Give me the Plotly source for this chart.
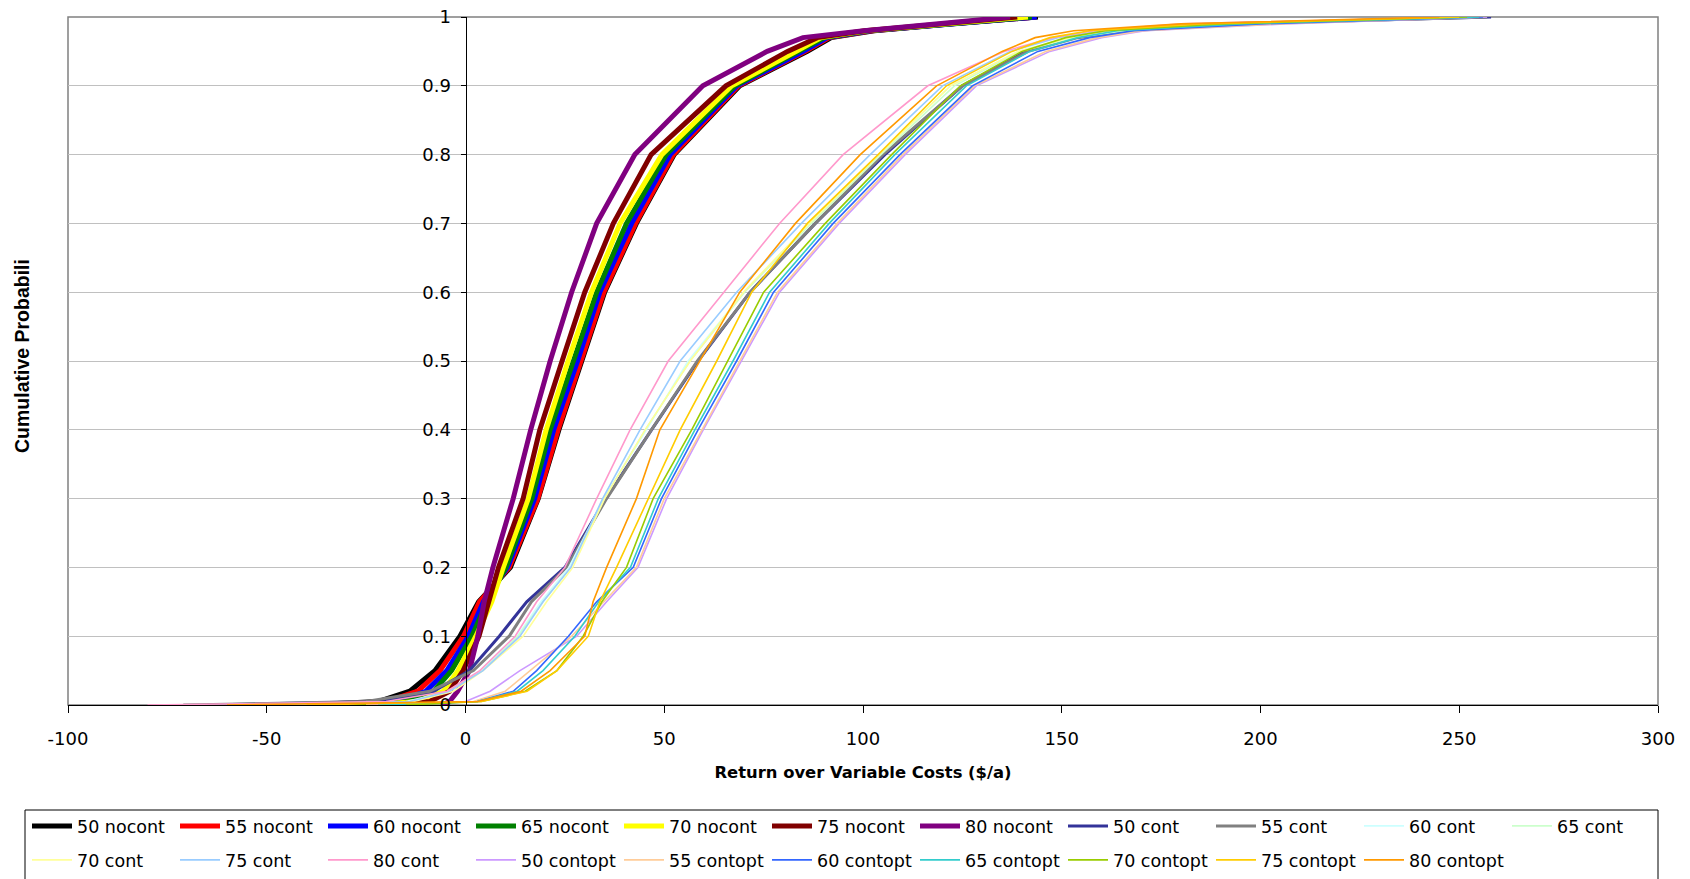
import plotly.graph_objects as go

# ---------------- data ----------------
cum_prob = [0, 0.005, 0.02, 0.05, 0.1, 0.15, 0.2, 0.3, 0.4, 0.5, 0.6, 0.7, 0.8, 0.9, 0.95, 0.97, 0.98, 0.99, 1.0]

nocont_50 = [-40, -22, -14, -7.7, -1.4, 3.3, 11.3, 18.3, 23.5, 29.4, 35.0, 43.0, 52.5, 69.0, 86.0, 92.0, 102.8, 122.6, 144.0]
nocont_55 = [-35, -20, -12, -6.4, -0.5, 3.5, 11.0, 18.2, 23.3, 29.2, 34.8, 42.8, 52.3, 68.7, 85.5, 91.5, 102.3, 122.2, 143.5]
nocont_60 = [-30, -17, -10, -4.7, 0.7, 4.5, 10.6, 17.4, 22.2, 28.2, 33.8, 41.8, 51.5, 68.3, 85.0, 91.0, 101.8, 121.8, 143.7]
nocont_65 = [-28, -15, -8, -3.5, 1.6, 5.4, 10.2, 16.7, 21.3, 27.0, 33.0, 40.5, 50.5, 67.8, 84.2, 90.3, 101.3, 121.2, 142.5]
nocont_70 = [-25, -12, -5.6, -1.9, 2.6, 6.6, 9.5, 15.8, 20.3, 25.8, 31.7, 38.9, 49.4, 67.0, 83.2, 89.5, 100.8, 120.8, 141.5]
nocont_75 = [-20, -9, -4, -0.6, 3.4, 5.7, 8.3, 14.5, 18.7, 24.3, 30.0, 37.2, 46.7, 65.5, 81.0, 88.5, 100.5, 120.0, 138.8]
nocont_80 = [-6, -4, -2, 1.0, 3.1, 4.7, 6.9, 12.0, 16.4, 21.3, 26.7, 33.0, 42.6, 59.7, 75.9, 84.9, 100.2, 118.0, 137.0]

cont_50 = [-65, -22, -8, 1.0, 8.5, 15.4, 25.0, 35.3, 46.8, 58.5, 71.6, 88.0, 105.5, 125.0, 141.0, 153.0, 165.0, 190.0, 258.0]
cont_55 = [-71, -25, -9, 2.0, 11.0, 16.6, 25.4, 35.5, 46.8, 58.3, 71.6, 88.0, 105.0, 125.0, 141.5, 154.0, 167.0, 195.0, 257.0]
cont_60 = [-50, -15, -4, 4.0, 13.0, 19.0, 26.0, 34.8, 45.5, 56.0, 70.0, 86.5, 104.0, 122.0, 139.0, 152.0, 165.0, 190.0, 256.0]
cont_65 = [-48, -14, -4, 4.2, 13.2, 19.5, 26.5, 34.9, 45.2, 56.5, 70.2, 87.0, 104.5, 123.0, 139.5, 153.0, 166.0, 192.0, 255.0]
cont_70 = [-45, -13, -3, 4.4, 14.5, 20.4, 27.0, 35.0, 45.2, 56.5, 69.9, 86.5, 104.0, 122.0, 139.0, 152.0, 164.0, 190.0, 254.0]
cont_75 = [-55, -14, -4, 4.4, 13.7, 19.5, 26.5, 34.5, 43.9, 54.0, 68.2, 84.5, 101.8, 120.0, 137.0, 149.0, 160.0, 185.0, 252.0]
cont_80 = [-80, -20, -4.7, 3.6, 12.5, 17.9, 25.0, 33.0, 41.4, 51.0, 65.0, 79.0, 95.0, 116.3, 135.5, 147.8, 158.0, 180.0, 250.0]

contopt_50 = [-25, 0, 6.2, 13.7, 28.0, 35.5, 43.4, 50.6, 59.8, 69.5, 79.0, 94.0, 110.6, 128.5, 147.0, 160.0, 171.0, 206.0, 257.0]
contopt_55 = [-20, 2, 10.0, 16.2, 26.7, 34.8, 43.0, 50.0, 59.5, 69.0, 78.5, 93.5, 110.0, 128.0, 146.0, 159.0, 170.0, 204.0, 256.0]
contopt_60 = [-18, 3, 12.0, 17.9, 25.9, 33.0, 42.2, 49.3, 58.5, 68.2, 77.5, 92.5, 109.3, 127.5, 144.0, 157.0, 168.0, 200.0, 256.0]
contopt_65 = [-22, 3, 13.0, 19.5, 27.5, 33.5, 41.5, 48.5, 57.7, 67.3, 76.5, 91.5, 108.0, 126.0, 142.0, 154.0, 164.0, 195.0, 255.0]
contopt_70 = [-15, 4, 15.0, 23.0, 29.6, 34.3, 40.5, 47.2, 56.9, 66.0, 75.0, 90.5, 107.2, 124.5, 140.0, 151.0, 161.0, 190.0, 252.0]
contopt_75 = [-40, 4, 15.5, 23.0, 30.9, 33.8, 38.0, 46.0, 54.0, 63.2, 72.0, 86.0, 103.8, 121.0, 137.5, 147.0, 157.0, 185.0, 250.0]
contopt_80 = [-60, 3, 14.0, 21.3, 30.0, 32.1, 35.5, 43.0, 48.9, 59.0, 69.0, 83.0, 99.3, 118.5, 135.0, 143.3, 153.0, 180.0, 245.0]

series_names = ["50 nocont", "55 nocont", "60 nocont", "65 nocont", "70 nocont", "75 nocont", "80 nocont",
                "50 cont", "55 cont", "60 cont", "65 cont", "70 cont", "75 cont", "80 cont",
                "50 contopt", "55 contopt", "60 contopt", "65 contopt", "70 contopt", "75 contopt", "80 contopt"]
series_values = [nocont_50, nocont_55, nocont_60, nocont_65, nocont_70, nocont_75, nocont_80,
                 cont_50, cont_55, cont_60, cont_65, cont_70, cont_75, cont_80,
                 contopt_50, contopt_55, contopt_60, contopt_65, contopt_70, contopt_75, contopt_80]

x_tick_vals = [-100, -50, 0, 50, 100, 150, 200, 250, 300]
x_tick_text = ["-100", "-50", "0", "50", "100", "150", "200", "250", "300"]
y_tick_vals = [0, 0.1, 0.2, 0.3, 0.4, 0.5, 0.6, 0.7, 0.8, 0.9, 1.0]
y_tick_text = ["0", "0.1", "0.2", "0.3", "0.4", "0.5", "0.6", "0.7", "0.8", "0.9", "1"]

# ---------------- styles ----------------
colors = ["#000000", "#FF0000", "#0000FF", "#008000", "#FFFF00", "#800000", "#800080",
          "#333399", "#808080", "#CCFFFF", "#CCFFCC", "#FFFF99", "#99CCFF", "#FF99CC",
          "#CC99FF", "#FFCC99", "#3366FF", "#33CCCC", "#99CC00", "#FFCC00", "#FF9900"]
widths = [5] * 7 + [3, 3] + [1.6] * 5 + [1.6] * 7

FONT = "DejaVu Sans"

fig = go.Figure()
for i, (name, xs) in enumerate(zip(series_names, series_values)):
    fig.add_trace(go.Scatter(
        x=xs, y=cum_prob, mode="lines", name=name,
        line=dict(color=colors[i], width=widths[i]),
        legend="legend" if i < 11 else "legend2",
        hoverinfo="skip",
    ))

# page body margin is removed (see post_script), so figure pixels == page pixels
W, H = 1690, 879
# plot area in pixels: x 68..1658, y 17..705
ml, mt = 68, 17
mr = W - 1658
mb = H - 705
pw, ph = W - ml - mr, H - mt - mb

def px_to_paper_x(px):
    return (px - ml) / pw

def px_to_paper_y(py):
    return (H - mb - py) / ph

legend_common = dict(
    orientation="h", xanchor="left", yanchor="middle",
    font=dict(family=FONT, size=17.5, color="#000000"),
    bgcolor="rgba(0,0,0,0)", borderwidth=0,
    entrywidth=93, entrywidthmode="pixels", itemwidth=40,
    traceorder="normal",
)

fig.update_layout(
    width=W, height=H,
    margin=dict(l=ml, r=mr, t=mt, b=mb, autoexpand=False),
    paper_bgcolor="#FFFFFF", plot_bgcolor="#FFFFFF",
    font=dict(family=FONT, size=17, color="#000000"),
    showlegend=True,
    legend=dict(x=px_to_paper_x(27), y=px_to_paper_y(826), **legend_common),
    legend2=dict(x=px_to_paper_x(27), y=px_to_paper_y(860), **legend_common),
    xaxis=dict(
        range=[-100, 300], tickvals=x_tick_vals, ticktext=x_tick_text,
        showgrid=False, zeroline=False,
        showline=True, linecolor="#000000", linewidth=1,
        ticks="outside", ticklen=7, tickcolor="#000000",
        ticklabelstandoff=10,
        tickfont=dict(family=FONT, size=18, color="#000000"),
        title=dict(text="<b>Return over Variable Costs ($/a)</b>",
                   font=dict(family=FONT, size=16.4, color="#000000"), standoff=18),
    ),
    yaxis=dict(
        range=[0, 1], tickvals=y_tick_vals, ticktext=y_tick_text,
        anchor="free", position=0.25,
        showgrid=True, gridcolor="#C0C0C0", gridwidth=1, zeroline=False,
        showline=True, linecolor="#000000", linewidth=1,
        ticks="outside", ticklen=5, tickcolor="#000000",
        ticklabelstandoff=6, ticklabeloverflow="allow",
        tickfont=dict(family=FONT, size=18, color="#000000"),
    ),
    shapes=[
        # plot-area frame
        dict(type="rect", xref="paper", yref="paper", x0=0, x1=1, y0=0, y1=1,
             line=dict(color="#808080", width=1.5), layer="below"),
        # legend box (its bottom edge runs off the page, as in the reference)
        dict(type="rect", xref="paper", yref="paper",
             x0=px_to_paper_x(25), x1=px_to_paper_x(1658),
             y0=px_to_paper_y(895), y1=px_to_paper_y(810),
             line=dict(color="#000000", width=1), layer="below"),
    ],
    annotations=[
        dict(text="<b>Cumulative Probabili</b>", xref="paper", yref="paper",
             x=px_to_paper_x(22), y=px_to_paper_y(356), textangle=-90,
             showarrow=False, xanchor="center", yanchor="middle",
             font=dict(family="Liberation Sans", size=19.5, color="#000000")),
    ],
)

fig.write_html("out.html",
               config={"displayModeBar": False},
               post_script="document.body.style.margin='0';document.body.style.overflow='hidden';")
